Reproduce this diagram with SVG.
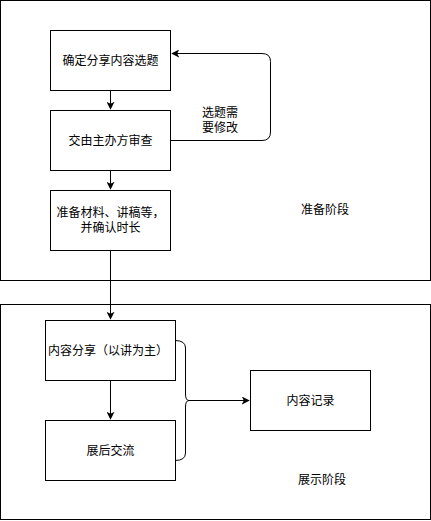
<svg xmlns="http://www.w3.org/2000/svg" width="431" height="521" viewBox="0 0 431 521">
<style>
.box{fill:#fff;stroke:#000;stroke-width:1}
.t{font-family:"Liberation Sans","Noto Sans CJK SC",sans-serif;font-size:12px;fill:#000;text-anchor:middle;dominant-baseline:central}
.c{fill:none;stroke:#000;stroke-width:1}
</style>
<defs>
<marker id="ah" viewBox="0 0 10 10" refX="9" refY="5" markerWidth="8" markerHeight="8" markerUnits="userSpaceOnUse" orient="auto">
<path d="M0,0 L10,5 L0,10 L2.5,5 Z" fill="#000"/>
</marker>
</defs>
<rect width="431" height="521" fill="#fff"/>
<g id="stage1">
<rect class="box" x="0.5" y="0.5" width="430" height="280"/>
<text class="t" x="325" y="210">准备阶段</text>
</g>
<g id="stage2">
<rect class="box" x="0.5" y="304.5" width="430" height="215"/>
<text class="t" x="322" y="480">展示阶段</text>
</g>
<g id="connectors">
<path class="c" d="M110.5,90 V109" marker-end="url(#ah)"/>
<path class="c" d="M110.5,170 V189" marker-end="url(#ah)"/>
<path class="c" d="M110.5,250 V319" marker-end="url(#ah)"/>
<path class="c" d="M110.5,380 V419" marker-end="url(#ah)"/>
<path class="c" d="M170,140.5 H262 Q270.5,140.5 270.5,132 V61.5 Q270.5,53.5 262,53.5 H172" marker-end="url(#ah)"/>
<path class="c" d="M175,340.5 Q185.5,340.5 185.5,348 V394 Q185.5,400.5 189,400.5 Q185.5,400.5 185.5,407 V453 Q185.5,460.5 175,460.5"/>
<path class="c" d="M189,400.5 H249" marker-end="url(#ah)"/>
<text class="t" x="220" y="113">选题需</text>
<text class="t" x="220" y="128">要修改</text>
</g>
<g id="n1">
<rect class="box" x="50.5" y="30.5" width="120" height="60"/>
<text class="t" x="110.5" y="60.5">确定分享内容选题</text>
</g>
<g id="n2">
<rect class="box" x="50.5" y="110.5" width="120" height="60"/>
<text class="t" x="110.5" y="140.5">交由主办方审查</text>
</g>
<g id="n3">
<rect class="box" x="50.5" y="190.5" width="120" height="60"/>
<text class="t" x="110.5" y="213">准备材料、讲稿等，</text>
<text class="t" x="110.5" y="228">并确认时长</text>
</g>
<g id="n4">
<rect class="box" x="45.5" y="320.5" width="130" height="60"/>
<text class="t" x="108" y="351">内容分享（以讲为主）</text>
</g>
<g id="n5">
<rect class="box" x="45.5" y="420.5" width="130" height="60"/>
<text class="t" x="110.5" y="450.5">展后交流</text>
</g>
<g id="n6">
<rect class="box" x="250.5" y="370.5" width="120" height="60"/>
<text class="t" x="310.5" y="400.5">内容记录</text>
</g>
</svg>
